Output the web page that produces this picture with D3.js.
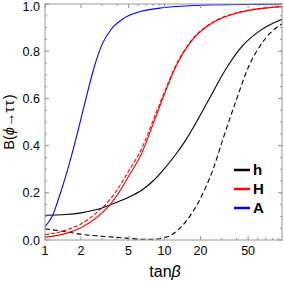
<!DOCTYPE html>
<html>
  <head>
    <meta charset="utf-8">
    <title>B(phi to tautau)</title>
    <script src="https://cdn.jsdelivr.net/npm/d3@7"></script>
    <style>
      body { margin: 0; background: #fff; }
      text { font-family: "Liberation Sans", Arial, sans-serif; }
    </style>
  </head>
  <body>
    <svg id="chart" width="284" height="283"></svg>

    <script>
      // data (tanβ, branching ratio)
      hSolidT = [1, 1.5, 2, 2.5, 3, 3.5, 4, 5, 6.47, 8, 9.5, 12.3, 14.9, 18, 23.4, 32.2, 44.4, 61.2, 92.8, 96];
      hSolidB = [0.105, 0.108, 0.115, 0.125, 0.136, 0.148, 0.16, 0.181, 0.212, 0.25, 0.29, 0.36, 0.42, 0.49, 0.594, 0.72, 0.82, 0.883, 0.932, 0.935];
      hDashT  = [1, 1.5, 1.96, 3, 4.82, 6.5, 8, 9.51, 11.1, 13.1, 16.9, 21.9, 25.7, 30.2, 39, 50.5, 65.2, 92.8, 96];
      hDashB  = [0.047, 0.035, 0.025, 0.016, 0.008, 0.003, 0.003, 0.008, 0.018, 0.045, 0.113, 0.219, 0.305, 0.415, 0.58, 0.735, 0.834, 0.911, 0.915];
      HSolidT = [1, 1.5, 2, 2.57, 3.5, 4.2, 5, 6.47, 8, 9.5, 12.3, 16.9, 23.4, 39, 96];
      HSolidB = [0.012, 0.028, 0.052, 0.087, 0.15, 0.205, 0.27, 0.37, 0.49, 0.59, 0.73, 0.845, 0.91, 0.96, 0.989];
      HDashT  = [1, 1.5, 2, 2.57, 3.5, 4.2, 5, 6.47, 8, 9.5, 12.3, 16.9, 23.4, 39, 96];
      HDashB  = [0.022, 0.042, 0.068, 0.107, 0.172, 0.228, 0.292, 0.39, 0.505, 0.6, 0.735, 0.848, 0.912, 0.961, 0.989];
      ASolidT = [1, 1.16, 1.27, 1.54, 1.86, 2.19, 2.57, 3.01, 3.54, 4.58, 6.47, 10, 20, 50, 96];
      ASolidB = [0.057, 0.105, 0.16, 0.295, 0.45, 0.595, 0.73, 0.83, 0.89, 0.94, 0.97, 0.985, 0.995, 0.998, 0.999];

      series = [
        { t: hSolidT, b: hSolidB, colour: "#000", dash: null },
        { t: hDashT, b: hDashB, colour: "#000", dash: "5,3" },
        { t: HSolidT, b: HSolidB, colour: "#f00", dash: null },
        { t: HDashT, b: HDashB, colour: "#f00", dash: "4,2" },
        { t: ASolidT, b: ASolidB, colour: "#00f", dash: null }
      ];
      legendNames = ["h", "H", "A"];
      legendColours = ["#000", "#f00", "#00f"];
      xMajor = [1, 2, 5, 10, 20, 50];
      xMinor = [3, 4, 6, 7, 8, 9, 30, 40, 60, 70, 80, 90];
      yMajor = [0, 0.2, 0.4, 0.6, 0.8, 1.0];
      yMinor = d3.range(0, 1.001, 0.05);

      svg = d3.select("#chart");
      const pLeft = 45, pRight = 282, pTop = 4, pBottom = 240;

      x = d3.scaleLog().domain([1, 96]).range([pLeft, pRight]);
      y = d3.scaleLinear().domain([0, 1]).range([pBottom, pTop]);

      // curves
      line = d3.line()
        .x(function(d) { return x(d[0]); })
        .y(function(d) { return y(d[1]); })
        .curve(d3.curveMonotoneX);

      plot = svg.append("g");
      series.forEach(function(s) {
        plot.append("path")
          .datum(s.t.map(function(t, i) { return [t, s.b[i]]; }))
          .attr("d", line)
          .attr("fill", "none")
          .attr("stroke", s.colour)
          .attr("stroke-width", 1.1)
          .attr("stroke-dasharray", s.dash);
      });

      // frame + inward ticks on all sides
      frame = "#999";
      svg.append("rect")
        .attr("x", pLeft).attr("y", pTop)
        .attr("width", pRight - pLeft).attr("height", pBottom - pTop)
        .attr("fill", "none").attr("stroke", frame).attr("stroke-width", 1);

      function xTicks(vals, len) {
        vals.forEach(function(v) {
          svg.append("line").attr("x1", x(v)).attr("x2", x(v))
            .attr("y1", pBottom).attr("y2", pBottom - len).attr("stroke", frame);
          svg.append("line").attr("x1", x(v)).attr("x2", x(v))
            .attr("y1", pTop).attr("y2", pTop + len).attr("stroke", frame);
        });
      }
      function yTicks(vals, len) {
        vals.forEach(function(v) {
          svg.append("line").attr("y1", y(v)).attr("y2", y(v))
            .attr("x1", pLeft).attr("x2", pLeft + len).attr("stroke", frame);
          svg.append("line").attr("y1", y(v)).attr("y2", y(v))
            .attr("x1", pRight).attr("x2", pRight - len).attr("stroke", frame);
        });
      }
      xTicks(xMajor, 4);
      xTicks(xMinor, 2);
      yTicks(yMajor, 4);
      yTicks(yMinor, 2);

      // tick labels
      svg.selectAll(".xl").data(xMajor).enter().append("text")
        .attr("x", function(d) { return x(d); })
        .attr("y", 255)
        .attr("text-anchor", "middle")
        .attr("font-size", 12.5)
        .text(function(d) { return d; });
      svg.selectAll(".yl").data(yMajor).enter().append("text")
        .attr("x", 40)
        .attr("y", function(d) { return Math.max(y(d) + 4.5, 10.5); })
        .attr("text-anchor", "end")
        .attr("font-size", 12.5)
        .text(function(d) { return d3.format(".1f")(d); });

      // axis titles
      xTitle = svg.append("text")
        .attr("x", 165).attr("y", 277)
        .attr("text-anchor", "middle")
        .attr("font-size", 16);
      xTitle.append("tspan").text("tan");
      xTitle.append("tspan").attr("font-style", "italic").text("β");

      yTitle = svg.append("text")
        .attr("transform", "translate(13.5,122) rotate(-90)")
        .attr("text-anchor", "middle")
        .attr("font-size", 14.5);
      yTitle.append("tspan").text("B(");
      yTitle.append("tspan").attr("font-style", "italic").text("ϕ");
      yTitle.append("tspan").text("→");
      yTitle.append("tspan").attr("letter-spacing", 1).text("ττ");
      yTitle.append("tspan").text(")");

      // legend
      legendNames.forEach(function(n, i) {
        const ly = 170 + i * 19;
        svg.append("line")
          .attr("x1", 234).attr("x2", 250)
          .attr("y1", ly).attr("y2", ly)
          .attr("stroke", legendColours[i]).attr("stroke-width", 2.5);
        svg.append("text")
          .attr("x", 253).attr("y", ly + 5)
          .attr("font-size", 15).attr("font-weight", "bold")
          .text(n);
      });
    </script>
  </body>
</html>
